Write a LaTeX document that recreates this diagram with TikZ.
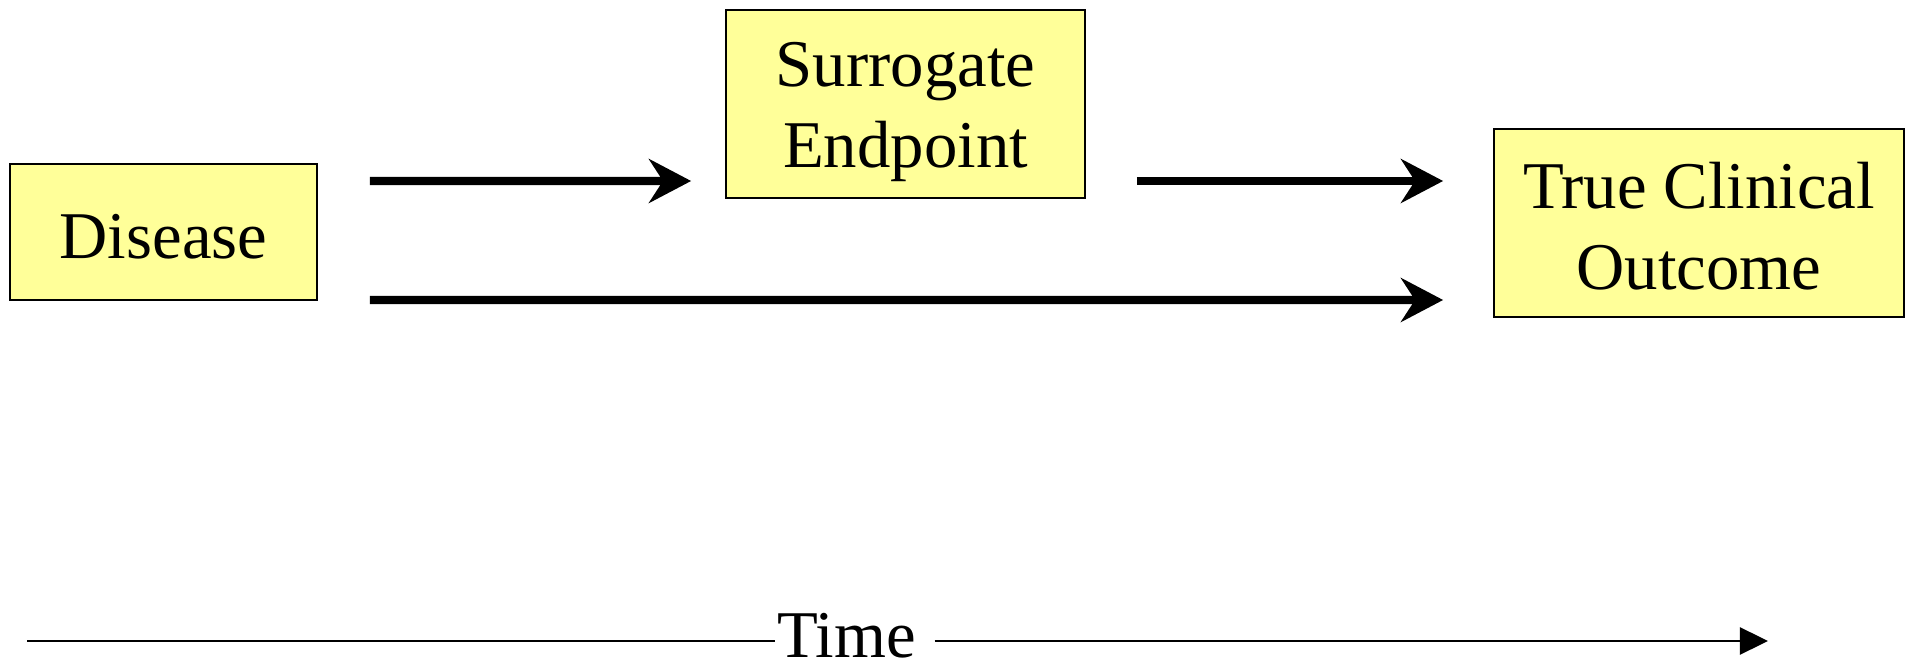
\documentclass[tikz,border=0pt]{standalone}
\usepackage{fontspec}
\setmainfont{Liberation Serif}
\usetikzlibrary{arrows.meta, calc}
\definecolor{boxyellow}{RGB}{255,255,153}
\newcommand{\lift}[1]{\rule{0pt}{#1}}

\begin{document}
\begin{tikzpicture}[semithick, font=\fontsize{19}{23}\selectfont]
\tikzstyle{every node}=[align=center]
\tikzstyle{box}=[draw=black, fill=boxyellow, rectangle, line width=0.5pt, inner sep=0pt]
\tikzstyle{fat}=[-{Stealth[length=12pt, width=12.5pt, inset=4pt]}, line width=2.4pt]
\useasboundingbox (0,0) rectangle (19.14,-6.62);

\node[box, minimum width=3.07cm, minimum height=1.36cm]  (dis) at (1.635,-2.32) {\lift{15pt}Disease};
\node[box, minimum width=3.59cm, minimum height=1.88cm]  (sur) at (9.055,-1.04) {\lift{17pt}Surrogate\\Endpoint};
\node[box, minimum width=4.10cm, minimum height=1.88cm]  (out) at (16.99,-2.23) {\lift{15pt}True Clinical\\Outcome};

\path[fat]
([xshift=0.52cm, yshift=0.51cm]dis.east)   edge   ([xshift=-0.34cm, yshift=-0.77cm]sur.west)
([xshift=0.51cm, yshift=-0.77cm]sur.east)  edge   ([xshift=-0.50cm, yshift=0.42cm]out.west)
([xshift=0.52cm, yshift=-0.68cm]dis.east)  edge   ([xshift=-0.50cm, yshift=-0.77cm]out.west);

% time axis
\coordinate (t0) at (0.27,-6.41);
\node[inner xsep=0.5pt, inner ysep=0pt, text depth=3.3pt] (time) at (8.467,-6.41) {Time};
\coordinate (t1) at (17.68,-6.41);
\draw[line width=0.7pt] (t0) -- (time);
\draw[line width=0.7pt, -{Triangle[length=8pt, width=7.7pt]}] ([xshift=4.5pt]time.east) -- (t1);

\end{tikzpicture}
\end{document}
